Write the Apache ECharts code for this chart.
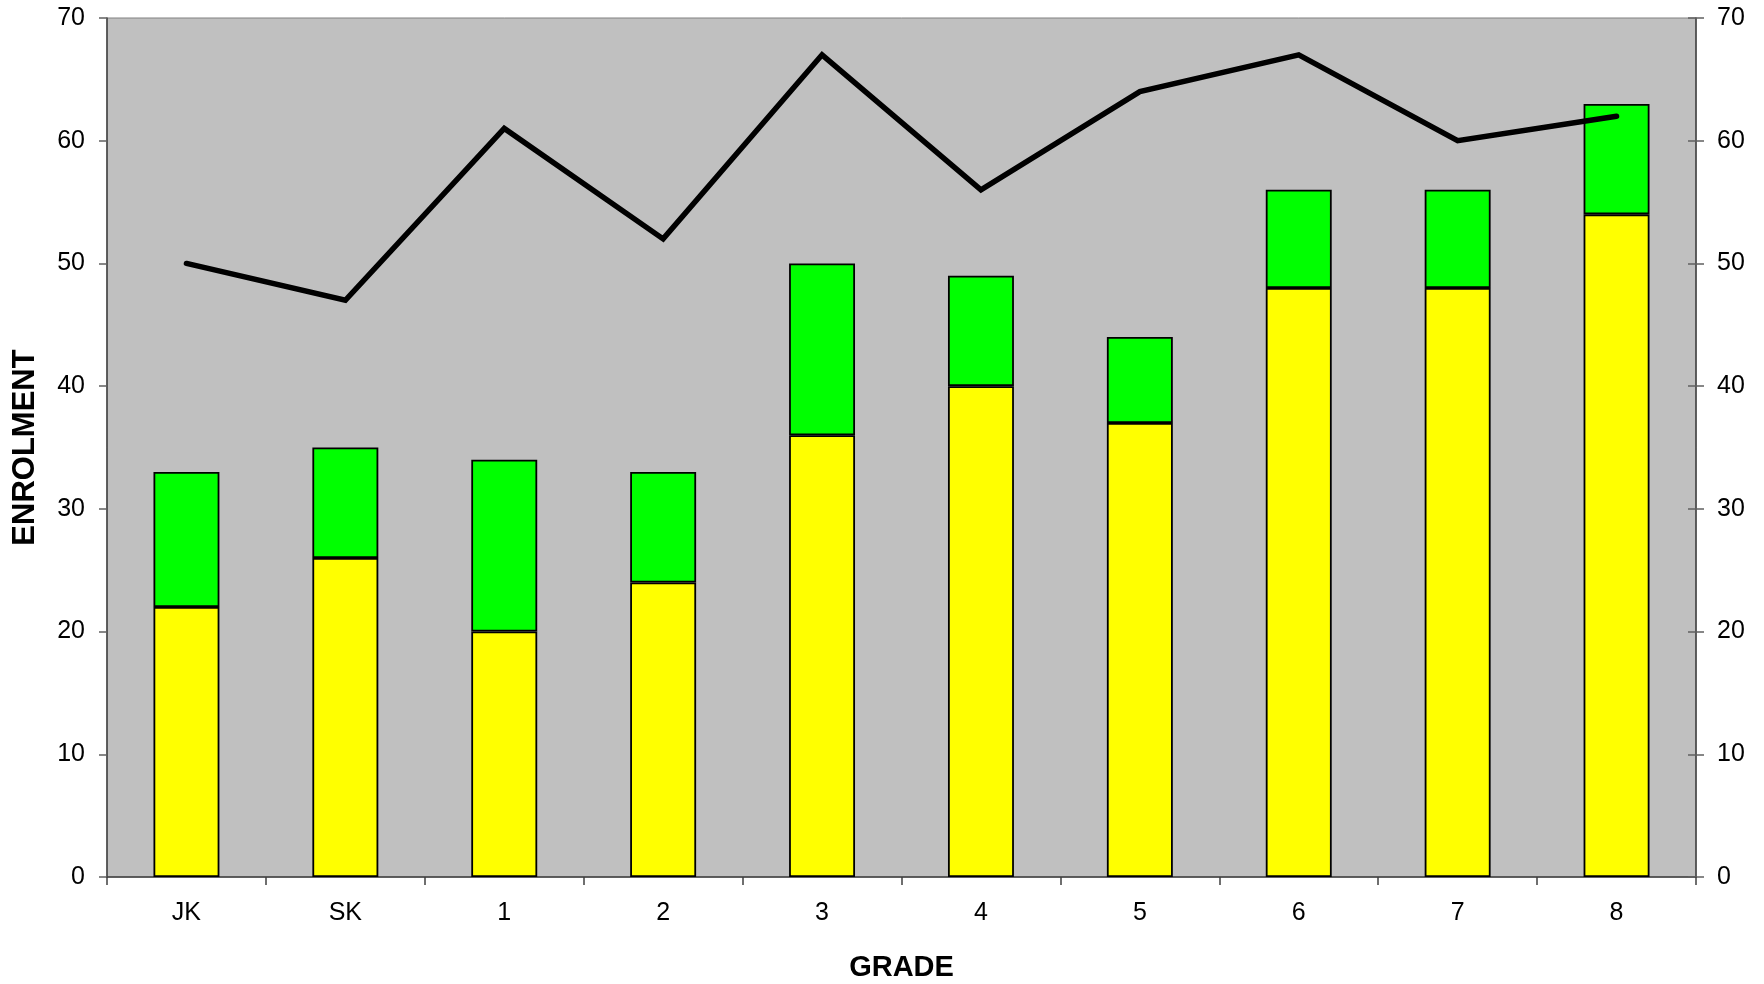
<!DOCTYPE html>
<html>
<head>
<meta charset="utf-8">
<script src="https://cdn.jsdelivr.net/npm/echarts@6/dist/echarts.min.js"></script>
<style>
html,body{margin:0;padding:0;background:#fff;}
#chart{width:1764px;height:984px;}
</style>
</head>
<body>
<div id="chart"></div>
<script>
var grades = ['JK','SK','1','2','3','4','5','6','7','8'];
var yellowValues = [22, 26, 20, 24, 36, 40, 37, 48, 48, 54];
var greenValues = [11, 9, 14, 9, 14, 9, 7, 8, 8, 9];
var lineValues = [50, 47, 61, 52, 67, 56, 64, 67, 60, 62];
var yTicks = {min: 0, max: 70, interval: 10};

var FONT = '"Liberation Sans", Arial, sans-serif';
var chart = echarts.init(document.getElementById('chart'), null, {renderer: 'canvas'});
chart.setOption({
  animation: false,
  grid: {left: 107, right: 68, top: 18, bottom: 107, show: true, containLabel: false,
         outerBoundsMode: 'none',
         backgroundColor: '#c0c0c0', borderColor: '#808080', borderWidth: 1},
  xAxis: {
    type: 'category', data: grades,
    name: 'GRADE', nameLocation: 'middle', nameGap: 76,
    nameTextStyle: {fontFamily: FONT, fontSize: 29, fontWeight: 'bold', color: '#000'},
    axisLine: {lineStyle: {color: '#404040', width: 1.5}},
    axisTick: {show: true, length: 8, lineStyle: {color: '#404040', width: 1.5}},
    axisLabel: {fontFamily: FONT, fontSize: 25, color: '#000', margin: 24},
    splitLine: {show: false}
  },
  yAxis: [
    {type: 'value', position: 'left', min: yTicks.min, max: yTicks.max, interval: yTicks.interval,
     name: 'ENROLMENT', nameLocation: 'middle', nameGap: 66, nameRotate: 90,
     nameTextStyle: {fontFamily: FONT, fontSize: 31, fontWeight: 'bold', color: '#000'},
     axisLine: {show: true, lineStyle: {color: '#404040', width: 1.5}},
     axisTick: {show: true, length: 8, lineStyle: {color: '#606060', width: 1.5}},
     axisLabel: {fontFamily: FONT, fontSize: 25, color: '#000', margin: 22},
     splitLine: {show: false}},
    {type: 'value', position: 'right', min: yTicks.min, max: yTicks.max, interval: yTicks.interval,
     axisLine: {show: true, lineStyle: {color: '#404040', width: 1.5}},
     axisTick: {show: true, length: 8, lineStyle: {color: '#606060', width: 1.5}},
     axisLabel: {fontFamily: FONT, fontSize: 25, color: '#000', margin: 21},
     splitLine: {show: false}},
    {type: 'value', position: 'right', min: yTicks.min, max: yTicks.max, interval: yTicks.interval,
     axisLine: {show: false},
     axisTick: {show: true, inside: true, length: 8, lineStyle: {color: '#606060', width: 1.5}},
     axisLabel: {show: false},
     splitLine: {show: false}}
  ],
  series: [
    {type: 'bar', stack: 'g', data: yellowValues, barWidth: '41.5%',
     itemStyle: {color: '#ffff00', borderColor: '#000', borderWidth: 1.8}},
    {type: 'bar', stack: 'g', data: greenValues, barWidth: '41.5%',
     itemStyle: {color: '#00ff00', borderColor: '#000', borderWidth: 1.8}},
    {type: 'line', data: lineValues, yAxisIndex: 1, symbol: 'none',
     lineStyle: {color: '#000', width: 5.5, cap: 'round', join: 'miter'}, z: 5}
  ]
});
</script>
</body>
</html>
